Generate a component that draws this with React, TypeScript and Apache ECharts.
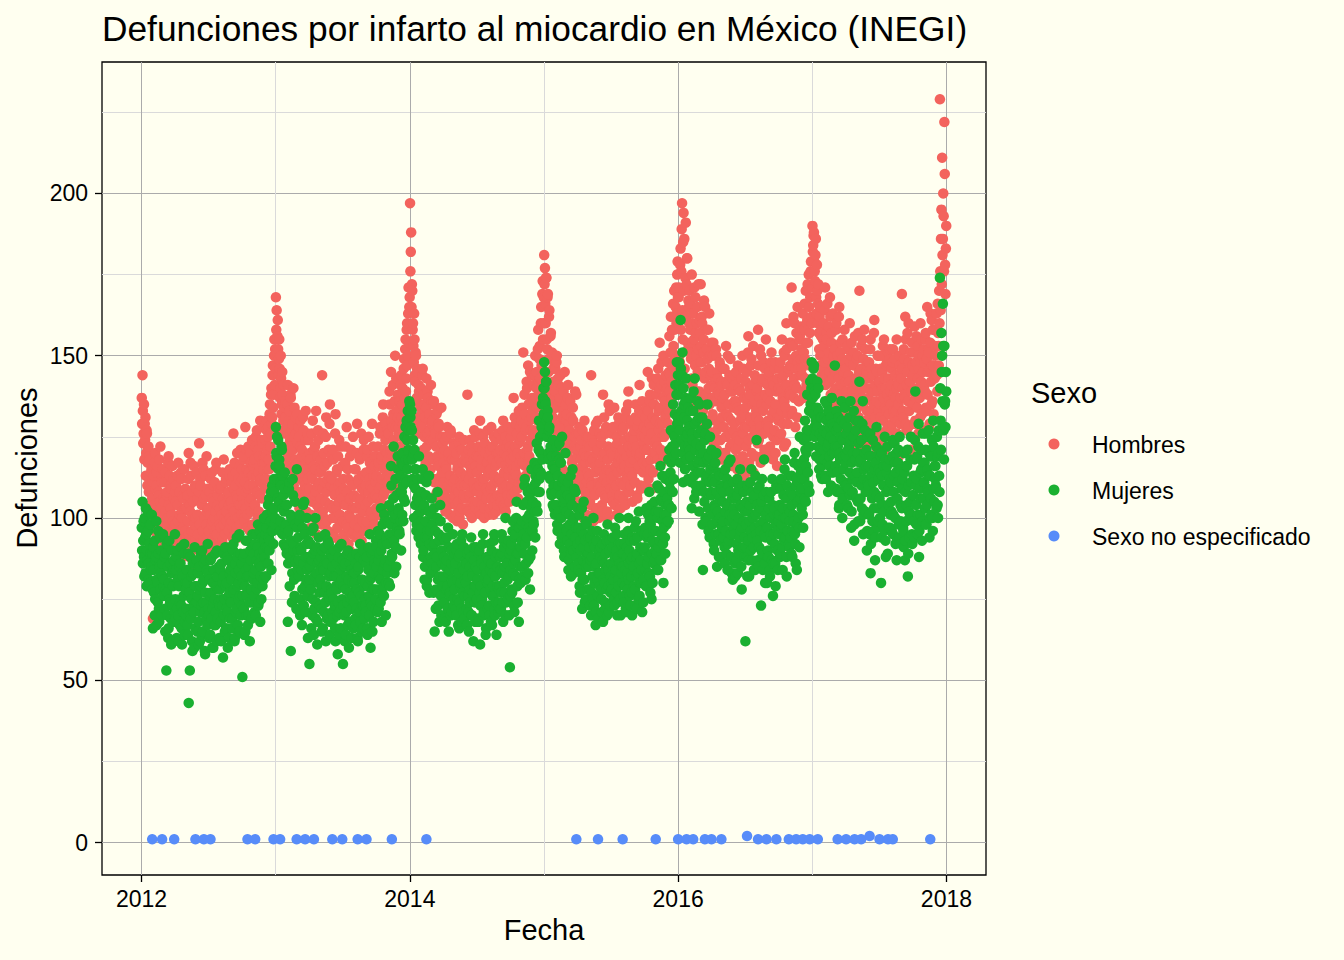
import { useEffect, useRef } from 'react'
import * as echarts from 'echarts'

const FONT = '"Liberation Sans", Arial, Helvetica, sans-serif'
const BG = '#FFFFF0'

const titleText = 'Defunciones por infarto al miocardio en México (INEGI)'
const seriesNames = ['Hombres', 'Mujeres', 'Sexo no especificado']
const seriesColors = ['#F3635D', '#1AB030', '#578CF9']
const years = [2012, 2013, 2014, 2015, 2016, 2017]
const xMajorTicks = [2012, 2014, 2016, 2018]
const xMinorTicks = [2013, 2015, 2017]
const yMajorTicks = [0, 50, 100, 150, 200]
const yMinorTicks = [25, 75, 125, 175, 225]

// daily deaths: one row = one month (30 readings)
const hombres2012 = [
  137, 129, 144, 133, 123, 126, 135, 118, 129, 124, 131, 113, 120, 127, 126, 110, 117, 121, 122, 108, 112, 119, 118, 104, 109, 114, 115, 101, 106, 111,
  69, 102, 113, 96, 104, 117, 120, 109, 98, 114, 110, 100, 116, 92, 101, 108, 107, 118, 95, 105, 122, 97, 103, 112, 111, 94, 99, 115, 106, 100,
  105, 111, 97, 102, 114, 90, 92, 107, 108, 98, 100, 117, 119, 104, 95, 113, 110, 96, 103, 109, 91, 101, 116, 93, 99, 112, 106, 97, 94, 108,
  98, 105, 110, 94, 92, 113, 104, 99, 117, 90, 89, 108, 101, 96, 95, 114, 112, 102, 100, 93, 88, 107, 106, 97, 115, 103, 96, 109, 103, 91,
  94, 103, 107, 89, 99, 112, 120, 95, 88, 104, 102, 117, 113, 92, 96, 108, 90, 101, 105, 86, 116, 98, 85, 110, 100, 93, 109, 114, 97, 106,
  101, 95, 92, 108, 123, 99, 98, 112, 110, 88, 87, 104, 104, 117, 96, 93, 115, 106, 100, 91, 90, 113, 107, 98, 119, 102, 94, 109, 103, 96,
  96, 103, 108, 91, 101, 112, 93, 98, 114, 106, 99, 89, 105, 110, 89, 100, 111, 95, 102, 115, 117, 97, 95, 104, 107, 92, 92, 109, 100, 98,
  103, 109, 97, 92, 110, 101, 93, 114, 106, 98, 118, 104, 100, 95, 95, 111, 112, 102, 99, 90, 91, 107, 108, 96, 104, 113, 115, 100, 98, 105,
  105, 111, 99, 94, 113, 103, 126, 109, 102, 117, 95, 100, 110, 114, 107, 97, 120, 106, 100, 112, 94, 104, 116, 98, 104, 121, 111, 101, 108, 115,
  112, 106, 104, 118, 119, 100, 99, 111, 128, 103, 108, 121, 115, 97, 101, 109, 122, 114, 110, 105, 96, 120, 117, 102, 106, 113, 124, 98, 113, 116,
  110, 117, 118, 103, 104, 122, 125, 108, 113, 127, 108, 100, 121, 114, 102, 119, 116, 107, 130, 112, 111, 124, 106, 101, 123, 117, 115, 128, 119, 109,
  117, 112, 124, 119, 112, 127, 130, 115, 121, 125, 128, 118, 115, 132, 135, 122, 126, 138, 140, 129, 131, 144, 147, 134, 138, 150, 155, 141, 152, 146,
]
const hombres2013 = [
  168, 158, 164, 151, 156, 161, 152, 144, 149, 155, 146, 137, 140, 150, 143, 132, 135, 145, 138, 127, 130, 141, 134, 121, 126, 136, 131, 118, 122, 129,
  128, 135, 141, 116, 119, 130, 133, 111, 124, 138, 137, 122, 115, 127, 129, 109, 121, 140, 110, 125, 134, 113, 118, 131, 126, 108, 112, 132, 123, 117,
  117, 128, 125, 103, 108, 122, 130, 114, 113, 119, 121, 106, 104, 131, 127, 111, 116, 101, 110, 124, 133, 115, 102, 109, 119, 126, 112, 107, 124, 118,
  109, 120, 118, 97, 101, 113, 126, 105, 112, 130, 97, 116, 121, 100, 107, 122, 115, 108, 133, 95, 104, 119, 110, 127, 124, 103, 99, 111, 114, 117,
  106, 118, 115, 98, 144, 109, 102, 126, 120, 100, 111, 116, 98, 105, 125, 131, 108, 99, 117, 112, 96, 121, 113, 104, 129, 135, 104, 110, 110, 119,
  112, 103, 100, 121, 118, 95, 94, 109, 107, 126, 132, 100, 103, 114, 115, 97, 97, 119, 110, 105, 124, 93, 101, 111, 108, 122, 93, 106, 116, 99,
  99, 112, 109, 95, 93, 104, 117, 122, 104, 98, 128, 108, 97, 115, 112, 92, 101, 106, 90, 119, 106, 100, 121, 111, 95, 103, 110, 125, 103, 96,
  107, 115, 98, 103, 115, 94, 103, 120, 129, 106, 95, 112, 111, 97, 100, 118, 119, 104, 106, 126, 93, 109, 113, 99, 102, 121, 124, 96, 108, 113,
  104, 110, 114, 97, 99, 119, 121, 105, 108, 125, 96, 112, 117, 101, 110, 115, 102, 96, 129, 109, 106, 122, 113, 100, 98, 116, 119, 107, 111, 103,
  113, 119, 106, 102, 122, 116, 117, 109, 101, 126, 128, 105, 110, 118, 119, 112, 104, 131, 135, 107, 115, 121, 108, 103, 124, 129, 112, 116, 120, 111,
  118, 127, 126, 113, 112, 139, 135, 120, 121, 145, 130, 115, 109, 128, 141, 132, 124, 110, 117, 136, 150, 122, 128, 143, 133, 119, 120, 131, 138, 126,
  128, 121, 136, 130, 122, 141, 144, 125, 131, 135, 140, 129, 126, 146, 149, 133, 137, 152, 155, 139, 143, 158, 160, 147, 150, 163, 171, 154, 165, 168,
]
const hombres2014 = [
  197, 176, 182, 188, 165, 172, 170, 158, 160, 153, 148, 163, 155, 144, 142, 151, 150, 136, 137, 146, 145, 130, 131, 141, 139, 127, 126, 135, 134, 129,
  140, 132, 128, 144, 146, 119, 121, 138, 135, 125, 131, 116, 117, 134, 143, 122, 126, 139, 137, 118, 119, 130, 132, 127, 124, 115, 141, 136, 129, 123,
  130, 124, 118, 135, 136, 111, 112, 127, 126, 107, 122, 132, 108, 119, 133, 117, 116, 129, 128, 110, 105, 125, 121, 113, 134, 106, 114, 123, 125, 120,
  117, 111, 108, 121, 124, 102, 103, 116, 115, 125, 128, 106, 110, 119, 120, 104, 101, 112, 113, 127, 126, 109, 106, 118, 118, 100, 111, 123, 122, 107,
  112, 118, 104, 101, 120, 109, 99, 115, 116, 105, 108, 123, 125, 100, 102, 111, 114, 121, 110, 103, 121, 117, 98, 106, 107, 124, 118, 110, 113, 119,
  106, 113, 117, 103, 138, 110, 102, 121, 112, 107, 124, 116, 108, 101, 115, 122, 100, 114, 120, 105, 111, 118, 127, 109, 104, 125, 116, 103, 109, 119,
  114, 108, 105, 119, 122, 102, 110, 126, 130, 112, 101, 116, 118, 104, 107, 121, 125, 111, 112, 100, 103, 123, 120, 109, 115, 106, 109, 117, 127, 113,
  108, 114, 119, 101, 103, 121, 115, 109, 128, 106, 110, 118, 122, 104, 101, 125, 113, 111, 106, 116, 124, 102, 117, 120, 104, 107, 111, 126, 120, 112,
  112, 118, 121, 106, 105, 124, 117, 111, 109, 127, 130, 104, 114, 120, 103, 116, 125, 102, 110, 122, 119, 108, 107, 123, 128, 113, 115, 105, 122, 117,
  118, 125, 110, 107, 127, 121, 115, 112, 137, 119, 108, 131, 122, 114, 129, 116, 113, 126, 120, 109, 106, 123, 133, 111, 117, 128, 124, 119, 112, 130,
  125, 134, 117, 112, 151, 129, 120, 138, 132, 116, 113, 127, 128, 142, 140, 121, 122, 147, 135, 118, 119, 130, 145, 124, 127, 136, 131, 144, 137, 126,
  133, 127, 141, 136, 126, 144, 150, 131, 137, 140, 145, 134, 130, 152, 158, 138, 142, 149, 153, 143, 136, 160, 165, 147, 148, 169, 173, 155, 160, 168,
]
const hombres2015 = [
  181, 172, 177, 166, 160, 174, 174, 155, 152, 168, 169, 149, 145, 162, 164, 140, 138, 156, 157, 135, 133, 151, 150, 131, 142, 146, 129, 137, 147, 139,
  146, 139, 134, 148, 150, 126, 127, 143, 141, 118, 120, 136, 137, 129, 144, 114, 125, 140, 131, 121, 115, 133, 139, 124, 128, 145, 122, 112, 135, 130,
  132, 126, 120, 137, 141, 112, 114, 129, 127, 122, 136, 107, 109, 131, 124, 117, 118, 134, 130, 111, 106, 125, 122, 139, 115, 121, 138, 110, 126, 119,
  121, 115, 112, 126, 128, 104, 105, 122, 118, 109, 124, 113, 102, 127, 116, 100, 110, 120, 130, 106, 108, 117, 119, 125, 101, 111, 114, 123, 125, 107,
  113, 119, 122, 105, 104, 117, 144, 111, 110, 125, 118, 101, 99, 123, 127, 108, 107, 114, 116, 129, 120, 103, 103, 121, 130, 109, 111, 100, 115, 126,
  117, 110, 108, 123, 125, 104, 102, 119, 138, 112, 113, 131, 120, 107, 106, 126, 128, 115, 111, 102, 100, 118, 122, 135, 115, 109, 133, 121, 109, 114,
  112, 120, 126, 107, 105, 128, 119, 113, 134, 104, 109, 122, 116, 110, 101, 125, 123, 117, 114, 131, 129, 106, 107, 119, 120, 103, 111, 127, 118, 115,
  121, 127, 110, 106, 128, 118, 116, 124, 104, 131, 133, 113, 119, 108, 112, 135, 139, 122, 108, 115, 125, 110, 117, 129, 130, 120, 113, 105, 122, 126,
  118, 124, 127, 111, 111, 131, 135, 120, 122, 107, 106, 128, 130, 115, 116, 133, 141, 119, 120, 110, 109, 126, 125, 136, 132, 117, 114, 123, 128, 121,
  125, 131, 116, 110, 134, 127, 121, 117, 145, 133, 112, 124, 129, 136, 138, 115, 118, 128, 126, 143, 109, 120, 131, 114, 141, 135, 123, 119, 120, 130,
  130, 124, 138, 143, 122, 118, 146, 133, 127, 140, 154, 129, 134, 121, 117, 148, 141, 125, 129, 137, 150, 119, 125, 142, 136, 131, 144, 126, 132, 139,
  140, 134, 148, 129, 133, 145, 156, 139, 144, 151, 162, 142, 137, 158, 151, 147, 166, 153, 146, 170, 158, 149, 141, 165, 171, 160, 163, 175, 179, 168,
]
const hombres2016 = [
  160, 168, 171, 150, 148, 178, 183, 158, 176, 189, 197, 164, 155, 185, 194, 170, 186, 146, 143, 174, 191, 162, 172, 180, 180, 154, 152, 167, 165, 160,
  170, 151, 158, 166, 149, 143, 175, 160, 141, 154, 163, 135, 155, 171, 136, 147, 168, 157, 150, 139, 160, 165, 145, 152, 172, 133, 139, 161, 157, 148,
  172, 153, 148, 162, 160, 137, 133, 151, 155, 167, 143, 128, 165, 145, 138, 158, 152, 130, 127, 149, 158, 140, 146, 163, 135, 126, 150, 144, 141, 154,
  145, 137, 132, 150, 154, 123, 125, 141, 140, 130, 136, 152, 150, 127, 121, 145, 143, 119, 129, 139, 138, 148, 147, 124, 118, 142, 134, 131, 141, 135,
  137, 146, 128, 120, 146, 138, 120, 125, 153, 142, 132, 117, 141, 150, 117, 131, 135, 144, 126, 122, 149, 139, 130, 116, 123, 143, 139, 127, 144, 134,
  129, 136, 141, 118, 121, 145, 136, 125, 115, 134, 147, 122, 133, 140, 124, 113, 139, 130, 118, 143, 131, 127, 150, 119, 126, 146, 137, 132, 113, 128,
  134, 142, 122, 116, 145, 137, 128, 151, 156, 124, 117, 140, 138, 131, 130, 147, 149, 120, 125, 135, 141, 153, 114, 129, 136, 144, 127, 119, 143, 133,
  131, 139, 140, 123, 158, 147, 124, 130, 137, 152, 128, 117, 150, 135, 119, 142, 143, 126, 133, 148, 126, 121, 146, 138, 138, 155, 121, 129, 135, 141,
  137, 130, 128, 144, 145, 119, 122, 136, 139, 148, 151, 126, 132, 142, 118, 125, 141, 133, 127, 146, 148, 120, 135, 139, 124, 116, 143, 131, 130, 140,
  140, 146, 131, 125, 148, 139, 126, 133, 155, 143, 137, 129, 144, 151, 122, 136, 150, 141, 134, 123, 160, 152, 141, 132, 129, 145, 146, 138, 138, 154,
  147, 139, 138, 154, 171, 133, 132, 149, 153, 162, 143, 137, 160, 141, 128, 146, 150, 157, 140, 131, 165, 148, 146, 136, 136, 155, 156, 144, 149, 159,
  152, 146, 144, 158, 163, 139, 137, 151, 158, 166, 149, 143, 170, 154, 141, 160, 161, 172, 154, 148, 175, 165, 147, 157, 168, 176, 179, 162, 160, 171,
]
const hombres2017 = [
  190, 182, 184, 187, 188, 179, 176, 173, 181, 186, 168, 163, 178, 170, 160, 166, 172, 157, 152, 162, 165, 150, 147, 156, 158, 144, 141, 151, 155, 146,
  160, 153, 148, 164, 171, 144, 141, 157, 155, 136, 166, 149, 136, 159, 151, 142, 145, 168, 162, 138, 133, 154, 157, 147, 143, 163, 150, 135, 139, 152,
  152, 145, 140, 158, 160, 131, 133, 150, 147, 138, 143, 162, 165, 136, 129, 151, 154, 141, 138, 127, 149, 155, 126, 144, 145, 132, 158, 148, 135, 142,
  146, 139, 135, 152, 153, 126, 128, 144, 142, 131, 160, 148, 132, 137, 150, 154, 124, 140, 139, 127, 147, 151, 130, 122, 156, 143, 137, 133, 143, 149,
  141, 134, 150, 157, 131, 145, 170, 139, 138, 128, 146, 153, 126, 137, 155, 142, 135, 149, 143, 158, 122, 136, 152, 130, 140, 145, 133, 147, 148, 124,
  137, 143, 148, 131, 129, 152, 155, 133, 140, 146, 123, 128, 144, 139, 135, 157, 161, 127, 131, 141, 146, 136, 120, 145, 139, 150, 150, 125, 133, 142,
  142, 135, 131, 146, 150, 124, 126, 140, 145, 153, 137, 130, 155, 143, 121, 134, 140, 147, 133, 127, 148, 138, 128, 151, 143, 132, 136, 149, 152, 139,
  135, 141, 146, 127, 129, 148, 152, 133, 138, 131, 124, 149, 144, 137, 133, 140, 155, 126, 130, 143, 141, 135, 119, 150, 147, 129, 137, 145, 143, 132,
  169, 146, 140, 133, 131, 152, 149, 138, 137, 162, 155, 129, 127, 141, 145, 157, 136, 128, 160, 148, 133, 142, 142, 121, 151, 139, 125, 154, 147, 135,
  144, 151, 135, 129, 159, 146, 130, 137, 148, 156, 140, 134, 153, 143, 126, 150, 146, 139, 137, 131, 160, 148, 142, 155, 132, 127, 150, 145, 139, 152,
  148, 141, 139, 155, 157, 134, 133, 149, 165, 138, 145, 152, 151, 128, 129, 146, 154, 163, 142, 135, 161, 147, 136, 158, 147, 132, 158, 144, 143, 153,
  150, 144, 158, 163, 144, 139, 166, 157, 153, 147, 170, 160, 229, 176, 164, 186, 195, 172, 211, 181, 186, 200, 193, 176, 222, 206, 178, 169, 183, 190,
]

const mujeres2012 = [
  97, 90, 105, 86, 93, 99, 88, 82, 100, 94, 83, 103, 95, 79, 90, 87, 102, 96, 86, 81, 92, 98, 80, 89, 98, 84, 85, 101, 89, 78,
  66, 91, 84, 77, 93, 70, 75, 87, 88, 99, 67, 81, 80, 74, 96, 89, 72, 68, 85, 94, 78, 83, 90, 71, 70, 86, 82, 95, 76, 79,
  81, 88, 72, 65, 89, 78, 53, 92, 77, 70, 85, 63, 66, 80, 93, 75, 74, 86, 69, 61, 83, 90, 62, 73, 79, 84, 87, 68, 71, 95,
  75, 69, 84, 88, 63, 72, 90, 81, 70, 62, 79, 85, 67, 74, 86, 91, 73, 66, 61, 83, 82, 71, 76, 89, 92, 64, 68, 80, 78, 70,
  72, 84, 80, 67, 64, 89, 43, 76, 77, 53, 88, 70, 69, 82, 75, 62, 59, 86, 83, 73, 71, 60, 91, 79, 66, 74, 79, 87, 74, 65,
  76, 83, 68, 61, 85, 78, 62, 71, 79, 89, 73, 64, 90, 80, 65, 74, 81, 86, 71, 59, 58, 77, 87, 69, 74, 84, 67, 92, 83, 72,
  70, 63, 81, 76, 64, 87, 77, 69, 88, 60, 72, 80, 60, 74, 84, 67, 75, 89, 67, 71, 79, 62, 90, 82, 69, 78, 74, 85, 63, 73,
  78, 84, 68, 62, 86, 75, 73, 80, 57, 89, 82, 70, 75, 65, 91, 79, 66, 72, 80, 88, 71, 60, 87, 76, 63, 83, 77, 69, 84, 74,
  74, 81, 85, 66, 69, 90, 92, 77, 78, 62, 63, 86, 83, 71, 72, 94, 88, 79, 67, 75, 80, 84, 95, 65, 76, 89, 70, 82, 86, 73,
  51, 76, 80, 88, 72, 64, 89, 79, 65, 93, 84, 70, 76, 82, 93, 67, 70, 85, 82, 74, 62, 90, 87, 78, 78, 69, 74, 95, 91, 81,
  83, 89, 76, 71, 92, 84, 70, 95, 87, 78, 80, 91, 98, 73, 74, 86, 89, 96, 68, 82, 85, 75, 94, 88, 79, 97, 90, 81, 100, 93,
  88, 82, 95, 91, 82, 97, 101, 86, 91, 104, 86, 94, 106, 90, 93, 99, 99, 108, 84, 96, 110, 102, 96, 92, 103, 112, 108, 98, 100, 116,
]
const mujeres2013 = [
  128, 120, 119, 125, 112, 106, 124, 115, 105, 118, 116, 96, 99, 111, 110, 122, 121, 103, 95, 113, 107, 92, 102, 109, 114, 97, 91, 104, 98, 89,
  104, 95, 68, 86, 96, 109, 111, 79, 88, 101, 59, 93, 100, 74, 83, 112, 107, 90, 92, 81, 76, 105, 98, 87, 86, 72, 115, 97, 90, 84,
  94, 87, 82, 99, 101, 70, 75, 91, 90, 84, 67, 78, 97, 104, 86, 73, 105, 95, 79, 88, 71, 81, 92, 100, 84, 76, 63, 93, 88, 80,
  55, 81, 85, 92, 78, 66, 96, 87, 70, 75, 89, 97, 64, 72, 82, 90, 100, 69, 74, 83, 91, 61, 68, 86, 80, 94, 87, 77, 73, 84,
  81, 88, 72, 65, 90, 79, 66, 85, 84, 71, 77, 91, 95, 74, 62, 87, 79, 69, 86, 93, 70, 76, 92, 82, 75, 64, 68, 89, 83, 78,
  77, 71, 85, 88, 69, 75, 90, 82, 73, 66, 62, 79, 82, 86, 78, 70, 58, 74, 88, 91, 71, 64, 80, 84, 66, 72, 92, 81, 75, 87,
  55, 73, 79, 85, 70, 62, 86, 78, 64, 71, 82, 89, 74, 67, 90, 81, 60, 68, 77, 86, 68, 75, 84, 63, 72, 80, 88, 76, 66, 83,
  74, 80, 83, 69, 67, 86, 89, 72, 78, 63, 62, 84, 85, 77, 71, 88, 92, 68, 76, 81, 65, 73, 81, 90, 73, 66, 87, 79, 69, 75,
  80, 73, 71, 86, 88, 66, 64, 79, 84, 91, 76, 70, 95, 81, 60, 74, 82, 89, 73, 65, 90, 78, 68, 83, 78, 87, 86, 72, 75, 93,
  85, 91, 78, 71, 96, 87, 72, 82, 89, 95, 81, 74, 103, 90, 68, 77, 92, 98, 84, 79, 76, 101, 99, 86, 87, 70, 80, 93, 94, 83,
  92, 99, 85, 80, 104, 95, 79, 87, 98, 116, 110, 89, 88, 102, 95, 106, 122, 93, 83, 100, 101, 112, 91, 85, 107, 96, 97, 119, 115, 103,
  102, 96, 95, 108, 113, 99, 90, 117, 108, 101, 120, 110, 99, 106, 116, 125, 105, 112, 128, 118, 111, 130, 124, 115, 133, 121, 118, 127, 136, 131,
]
const mujeres2014 = [
  135, 131, 128, 118, 133, 127, 118, 112, 124, 120, 110, 100, 121, 115, 104, 109, 115, 96, 98, 106, 112, 101, 107, 94, 119, 105, 95, 99, 102, 92,
  108, 99, 97, 112, 115, 88, 90, 103, 104, 81, 85, 94, 99, 107, 111, 79, 81, 96, 94, 87, 102, 113, 77, 92, 96, 83, 88, 101, 106, 86,
  91, 98, 84, 77, 103, 92, 65, 89, 96, 72, 78, 85, 88, 100, 108, 81, 73, 95, 93, 68, 82, 104, 99, 76, 70, 90, 86, 80, 79, 94,
  82, 88, 74, 69, 93, 85, 68, 78, 87, 94, 79, 72, 97, 83, 65, 91, 84, 77, 76, 70, 90, 86, 71, 81, 80, 95, 88, 73, 75, 89,
  78, 84, 86, 72, 70, 90, 92, 81, 75, 67, 83, 88, 66, 74, 89, 79, 80, 93, 72, 68, 95, 85, 77, 71, 84, 91, 69, 76, 81, 87,
  80, 86, 72, 67, 89, 82, 76, 71, 65, 90, 85, 74, 78, 88, 94, 70, 70, 83, 82, 77, 62, 91, 87, 79, 74, 68, 79, 85, 91, 75,
  75, 81, 84, 69, 68, 89, 90, 77, 61, 73, 79, 87, 86, 75, 73, 92, 95, 70, 71, 85, 82, 77, 77, 64, 66, 83, 88, 80, 80, 72,
  81, 87, 73, 70, 92, 84, 78, 68, 86, 90, 67, 76, 83, 79, 76, 93, 95, 72, 70, 82, 88, 74, 64, 85, 79, 89, 85, 71, 74, 78,
  79, 72, 88, 84, 72, 77, 95, 89, 83, 74, 68, 93, 91, 80, 77, 85, 100, 70, 74, 87, 86, 92, 81, 75, 93, 82, 70, 89, 54, 76,
  84, 90, 92, 78, 77, 96, 99, 83, 86, 73, 71, 94, 95, 87, 82, 100, 105, 89, 79, 74, 89, 97, 68, 81, 97, 91, 85, 80, 91, 98,
  93, 99, 85, 82, 104, 95, 89, 110, 112, 92, 81, 86, 98, 105, 94, 100, 108, 83, 87, 97, 101, 107, 78, 88, 96, 103, 115, 109, 90, 96,
  105, 99, 98, 110, 117, 102, 94, 113, 111, 104, 123, 116, 102, 108, 115, 121, 130, 112, 108, 125, 120, 114, 113, 128, 135, 118, 126, 137, 140, 132,
]
const mujeres2015 = [
  148, 140, 145, 136, 135, 142, 142, 130, 125, 133, 131, 120, 118, 127, 128, 113, 112, 122, 121, 108, 107, 119, 116, 104, 124, 110, 103, 115, 110, 101,
  115, 108, 104, 119, 122, 98, 96, 113, 110, 102, 118, 123, 92, 100, 107, 117, 100, 94, 125, 111, 95, 105, 112, 90, 88, 106, 103, 120, 109, 97,
  102, 96, 93, 107, 111, 84, 87, 101, 98, 92, 106, 113, 82, 89, 95, 104, 115, 99, 90, 83, 100, 109, 85, 94, 108, 97, 97, 88, 91, 103,
  92, 86, 84, 97, 101, 79, 77, 93, 90, 83, 96, 103, 72, 81, 87, 91, 105, 95, 81, 74, 93, 99, 75, 85, 98, 88, 86, 78, 89, 94,
  85, 91, 78, 73, 94, 87, 70, 77, 88, 96, 82, 75, 100, 92, 73, 80, 91, 85, 67, 71, 86, 93, 96, 81, 76, 69, 83, 89, 90, 79,
  83, 88, 91, 78, 75, 71, 87, 92, 68, 81, 95, 86, 80, 74, 72, 84, 89, 93, 78, 70, 98, 85, 84, 79, 71, 90, 93, 73, 77, 82,
  86, 80, 78, 91, 94, 84, 81, 75, 73, 88, 97, 83, 84, 77, 90, 95, 70, 74, 88, 81, 79, 92, 100, 86, 75, 70, 92, 85, 83, 89,
  80, 85, 89, 76, 74, 92, 95, 79, 84, 72, 71, 88, 91, 83, 78, 96, 100, 81, 86, 90, 76, 73, 93, 87, 82, 77, 70, 94, 88, 84,
  85, 79, 93, 97, 78, 73, 99, 88, 72, 82, 89, 94, 83, 75, 102, 86, 76, 80, 91, 96, 87, 84, 80, 71, 96, 90, 74, 81, 90, 95,
  91, 97, 84, 79, 103, 94, 79, 86, 95, 101, 88, 83, 108, 99, 82, 77, 98, 104, 75, 89, 93, 80, 100, 96, 86, 92, 105, 87, 90, 102,
  96, 102, 89, 84, 110, 100, 84, 91, 102, 109, 93, 87, 116, 106, 87, 95, 105, 113, 99, 92, 80, 97, 108, 101, 94, 89, 112, 104, 101, 98,
  106, 99, 113, 118, 99, 104, 121, 111, 109, 114, 127, 117, 103, 122, 118, 108, 135, 126, 112, 119, 125, 132, 141, 123, 120, 138, 148, 129, 131, 144,
]
const mujeres2016 = [
  138, 129, 148, 141, 127, 117, 161, 146, 133, 124, 144, 151, 120, 111, 140, 135, 131, 122, 115, 137, 136, 143, 125, 118, 130, 126, 112, 134, 122, 128,
  128, 121, 119, 133, 137, 111, 103, 126, 124, 116, 133, 139, 113, 106, 143, 129, 121, 110, 108, 123, 130, 136, 117, 114, 126, 118, 102, 131, 135, 120,
  122, 114, 110, 127, 131, 98, 84, 120, 117, 108, 105, 124, 126, 100, 99, 112, 113, 129, 135, 118, 103, 96, 119, 111, 94, 125, 115, 107, 108, 121,
  107, 101, 98, 112, 116, 92, 90, 104, 111, 117, 103, 95, 120, 108, 85, 99, 102, 114, 95, 88, 113, 106, 100, 93, 88, 110, 109, 97, 97, 105,
  99, 94, 108, 113, 91, 86, 115, 102, 96, 89, 104, 112, 84, 92, 110, 117, 93, 99, 101, 108, 118, 95, 88, 83, 106, 100, 81, 111, 97, 103,
  95, 101, 86, 82, 106, 98, 92, 87, 112, 107, 83, 90, 100, 109, 89, 94, 115, 104, 96, 85, 78, 97, 103, 110, 91, 99, 108, 88, 94, 102,
  62, 91, 98, 105, 88, 82, 110, 102, 93, 87, 82, 99, 104, 111, 96, 90, 115, 108, 87, 94, 100, 106, 91, 84, 107, 97, 84, 113, 101, 95,
  124, 104, 93, 87, 102, 109, 85, 91, 110, 98, 96, 103, 73, 90, 105, 112, 89, 84, 99, 107, 118, 95, 86, 80, 94, 101, 108, 97, 80, 88,
  97, 90, 88, 103, 106, 84, 82, 95, 100, 108, 93, 87, 112, 104, 76, 86, 95, 101, 103, 92, 86, 79, 98, 110, 109, 96, 90, 84, 101, 99,
  95, 101, 104, 88, 89, 109, 112, 97, 98, 91, 84, 103, 107, 100, 93, 115, 118, 94, 100, 106, 88, 82, 110, 96, 96, 113, 103, 92, 91, 99,
  102, 108, 94, 89, 113, 104, 88, 96, 107, 101, 99, 117, 120, 95, 92, 86, 110, 112, 84, 98, 105, 111, 116, 100, 97, 91, 125, 106, 108, 114,
  109, 103, 117, 112, 101, 97, 124, 118, 112, 106, 130, 121, 105, 116, 120, 127, 138, 125, 114, 110, 127, 133, 108, 122, 142, 135, 133, 140, 148, 137,
]
const mujeres2017 = [
  143, 137, 132, 146, 147, 128, 125, 139, 138, 130, 119, 127, 134, 142, 128, 122, 140, 133, 115, 118, 126, 131, 121, 113, 131, 116, 112, 125, 124, 118,
  127, 121, 118, 131, 136, 113, 112, 126, 130, 135, 122, 117, 108, 123, 133, 119, 116, 128, 125, 131, 110, 114, 137, 129, 120, 109, 114, 124, 128, 120,
  147, 122, 116, 109, 127, 133, 108, 114, 122, 128, 131, 103, 104, 120, 118, 125, 112, 108, 136, 130, 100, 106, 124, 119, 115, 111, 129, 134, 110, 117,
  119, 126, 110, 104, 128, 121, 103, 109, 122, 131, 114, 107, 136, 124, 97, 102, 117, 112, 108, 120, 125, 133, 93, 98, 113, 118, 130, 127, 106, 111,
  114, 120, 105, 99, 123, 130, 142, 117, 99, 106, 118, 124, 110, 103, 129, 136, 95, 101, 112, 115, 120, 127, 102, 108, 116, 121, 90, 96, 125, 111,
  110, 116, 101, 95, 119, 126, 83, 92, 113, 119, 106, 99, 124, 111, 96, 103, 108, 115, 87, 94, 117, 122, 128, 107, 103, 97, 99, 112, 115, 121,
  106, 100, 114, 119, 80, 94, 120, 113, 98, 104, 110, 116, 102, 96, 125, 118, 93, 88, 108, 114, 116, 122, 89, 97, 104, 109, 112, 118, 97, 101,
  111, 105, 102, 96, 119, 124, 95, 101, 108, 113, 123, 117, 100, 92, 114, 120, 87, 93, 106, 111, 117, 121, 98, 94, 125, 115, 104, 99, 92, 109,
  103, 109, 112, 97, 96, 91, 120, 114, 87, 93, 108, 116, 99, 104, 116, 121, 82, 89, 110, 102, 94, 100, 105, 118, 125, 111, 101, 95, 92, 107,
  107, 113, 99, 94, 118, 124, 139, 110, 104, 98, 112, 119, 95, 101, 122, 129, 88, 96, 109, 114, 101, 106, 115, 121, 93, 99, 126, 117, 106, 111,
  111, 117, 103, 98, 121, 126, 98, 104, 115, 109, 108, 113, 127, 120, 94, 100, 113, 119, 106, 101, 119, 124, 100, 96, 130, 122, 109, 105, 116, 112,
  116, 110, 109, 103, 125, 119, 104, 100, 120, 127, 113, 108, 174, 140, 130, 121, 157, 145, 150, 136, 166, 153, 127, 118, 153, 135, 136, 128, 145, 139,
]

const sinSexoFechas = [
  '2012-01-30', '2012-02-26', '2012-03-30', '2012-05-27', '2012-06-19', '2012-07-07',
  '2012-10-16', '2012-11-06', '2012-12-26', '2013-01-13', '2013-02-27', '2013-03-22',
  '2013-04-15', '2013-06-04', '2013-07-01', '2013-08-12', '2013-09-05', '2013-11-13',
  '2014-02-15', '2015-03-30', '2015-05-28', '2015-08-03', '2015-11-01', '2016-01-01',
  '2016-01-24', '2016-02-11', '2016-03-14', '2016-04-01', '2016-04-28', '2016-07-07',
  '2016-08-06', '2016-08-29', '2016-09-25', '2016-10-29', '2016-11-18', '2016-12-06',
  '2016-12-25', '2017-01-16', '2017-03-11', '2017-04-03', '2017-04-26', '2017-05-14',
  '2017-06-06', '2017-07-03', '2017-07-26', '2017-08-08', '2017-11-18',
]
const sinSexoValores = [
  1, 1, 1, 1, 1, 1,
  1, 1, 1, 1, 1, 1,
  1, 1, 1, 1, 1, 1,
  1, 1, 1, 1, 1, 1,
  1, 1, 1, 1, 1, 2,
  1, 1, 1, 1, 1, 1,
  1, 1, 1, 1, 1, 1,
  2, 1, 1, 1, 1,
]

const hombresByYear = [hombres2012, hombres2013, hombres2014, hombres2015, hombres2016, hombres2017]
const mujeresByYear = [mujeres2012, mujeres2013, mujeres2014, mujeres2015, mujeres2016, mujeres2017]

function toPoints(byYear: number[][]) {
  const pts: number[][] = []
  byYear.forEach((vals, yi) => {
    vals.forEach((v, i) => pts.push([years[yi] + (i + 0.5) / vals.length, v]))
  })
  return pts
}

function toYear(d: string) {
  const [y, m, dd] = d.split('-').map(Number)
  const start = Date.UTC(y, 0, 1)
  const end = Date.UTC(y + 1, 0, 1)
  return y + (Date.UTC(y, m - 1, dd) - start) / (end - start)
}

function textEl(text: string, x: number, y: number, size: number, align = 'left', rotation = 0) {
  return {
    type: 'text',
    x,
    y,
    rotation,
    silent: true,
    style: {
      text,
      fill: '#000',
      fontSize: size,
      fontFamily: FONT,
      align,
      textAlign: align,
      verticalAlign: 'middle',
      textVerticalAlign: 'middle',
    },
  }
}

export default function App() {
  const ref = useRef<HTMLDivElement>(null)

  useEffect(() => {
    document.body.style.margin = '0'
    document.body.style.background = BG
    if (!ref.current) return
    const chart = echarts.init(ref.current, undefined, { renderer: 'svg' })

    const X_MIN = 2011.705
    const X_MAX = 2018.295
    const Y_MIN = -10
    const Y_MAX = 240.5

    const tickLabel = { color: '#000', fontSize: 23, fontFamily: FONT }
    const legendY = [444, 490, 536]

    const scatter = (i: number, data: number[][]) => ({
      name: seriesNames[i],
      type: 'scatter',
      xAxisIndex: 0,
      yAxisIndex: 0,
      data,
      symbolSize: 10.5,
      itemStyle: { color: seriesColors[i], opacity: 1 },
      silent: true,
    })

    chart.setOption({
      animation: false,
      backgroundColor: BG,
      grid: {
        left: 102,
        top: 62,
        width: 884,
        height: 813,
        show: true,
        borderColor: '#000',
        borderWidth: 1.3,
        backgroundColor: 'transparent',
        containLabel: false,
      },
      xAxis: [
        {
          type: 'value',
          min: X_MIN,
          max: X_MAX,
          position: 'bottom',
          axisLine: { show: false, onZero: false },
          axisTick: { show: true, customValues: xMajorTicks, length: 7, lineStyle: { color: '#000', width: 1.3 } },
          axisLabel: { ...tickLabel, customValues: xMajorTicks, margin: 12, formatter: (v: number) => String(v) },
          splitLine: { show: true, lineStyle: { color: '#ABABAB', width: 1 } },
        },
        {
          type: 'value',
          min: X_MIN,
          max: X_MAX,
          position: 'top',
          axisLine: { show: false, onZero: false },
          axisTick: { show: false, customValues: xMinorTicks },
          axisLabel: { show: false },
          splitLine: { show: true, lineStyle: { color: '#DADADA', width: 1 } },
        },
      ],
      yAxis: [
        {
          type: 'value',
          min: Y_MIN,
          max: Y_MAX,
          position: 'left',
          axisLine: { show: false, onZero: false },
          axisTick: { show: true, customValues: yMajorTicks, length: 7, lineStyle: { color: '#000', width: 1.3 } },
          axisLabel: { ...tickLabel, customValues: yMajorTicks, margin: 14, formatter: (v: number) => String(v) },
          splitLine: { show: true, lineStyle: { color: '#ABABAB', width: 1 } },
        },
        {
          type: 'value',
          min: Y_MIN,
          max: Y_MAX,
          position: 'right',
          axisLine: { show: false, onZero: false },
          axisTick: { show: false, customValues: yMinorTicks },
          axisLabel: { show: false },
          splitLine: { show: true, lineStyle: { color: '#DADADA', width: 1 } },
        },
      ],
      series: [
        scatter(0, toPoints(hombresByYear)),
        scatter(1, toPoints(mujeresByYear)),
        scatter(2, sinSexoFechas.map((d, i) => [toYear(d), sinSexoValores[i]])),
      ],
      graphic: [
        textEl(titleText, 102, 28, 35.3),
        textEl('Fecha', 544, 930, 29, 'center'),
        textEl('Defunciones', 27, 468, 29, 'center', Math.PI / 2),
        textEl('Sexo', 1031, 393, 29),
        ...seriesNames.flatMap((name, i) => [
          {
            type: 'circle',
            silent: true,
            shape: { cx: 1054, cy: legendY[i], r: 5.5 },
            style: { fill: seriesColors[i] },
          },
          textEl(name, 1092, legendY[i] + 1, 23),
        ]),
      ],
    })

    return () => {
      chart.dispose()
    }
  }, [])

  return <div ref={ref} style={{ width: 1344, height: 960, background: BG }} />
}
